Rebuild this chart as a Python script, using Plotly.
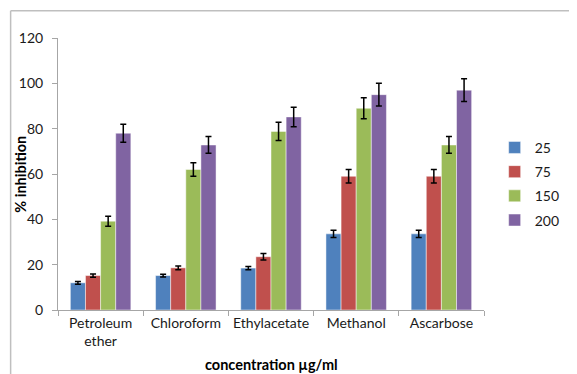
import plotly.graph_objects as go

categories = ["Petroleum<br>ether", "Chloroform", "Ethylacetate", "Methanol", "Ascarbose"]
series_names = ["25", "75", "150", "200"]
values = {
    "25": [12, 15.2, 18.5, 33.6, 33.6],
    "75": [15.2, 18.6, 23.5, 59, 59],
    "150": [39.2, 62, 78.8, 89, 72.8],
    "200": [78, 72.8, 85.2, 95, 97],
}
errors = {
    "25": [0.6, 0.6, 0.7, 1.6, 1.6],
    "75": [0.7, 0.8, 1.4, 3, 3],
    "150": [2.2, 3, 4, 4.6, 3.7],
    "200": [4, 3.7, 4.3, 5, 5],
}
colors = ["#4F81BD", "#C0504D", "#9BBB59", "#8064A2"]
y_ticks = [0, 20, 40, 60, 80, 100, 120]

FONT = "Lato"

fig = go.Figure()
for i, name in enumerate(series_names):
    fig.add_trace(go.Bar(
        x=categories, y=values[name], name=name,
        marker=dict(color=colors[i], line=dict(color="rgba(255,255,255,0.6)", width=0.8)),
        error_y=dict(type="data", array=errors[name], color="black", thickness=1.5, width=3),
        legendgroup=name,
    ))

fig.update_layout(
    width=569, height=366,
    margin=dict(l=50, r=74, t=30, b=64),
    paper_bgcolor="white", plot_bgcolor="white",
    barmode="group", bargap=0.29, bargroupgap=0,
    font=dict(family=FONT, size=14, color="#1a1a1a"),
    showlegend=True,
    legend=dict(x=1.025, y=0.655, xanchor="left", yanchor="top",
                font=dict(size=14), tracegroupgap=3, itemwidth=30,
                bgcolor="rgba(0,0,0,0)"),
    xaxis=dict(showline=True, linecolor="#A6A6A6", linewidth=1,
               ticks="outside", tickson="boundaries", ticklen=5, tickcolor="#A6A6A6",
               showgrid=False, tickfont=dict(size=14)),
    yaxis=dict(range=[0, 120], tickvals=y_ticks, showline=True, linecolor="#A6A6A6",
               linewidth=1, ticks="outside", ticklen=5, tickcolor="#A6A6A6",
               showgrid=False, zeroline=False, tickfont=dict(size=14), ticklabelstandoff=6),
    annotations=[
        dict(text="<b>% inhibition</b>", x=-0.09, y=0.5, xref="paper", yref="paper",
             textangle=-90, showarrow=False, font=dict(size=14.5, color="black"),
             xanchor="center", yanchor="middle"),
        dict(text="<b>concentration µg/ml</b>", x=0.5, y=-0.2, xref="paper", yref="paper",
             showarrow=False, font=dict(size=14.5, color="black"),
             xanchor="center", yanchor="middle"),
    ],
    shapes=[
        dict(type="line", xref="paper", yref="paper", x0=-0.1112, x1=1.2, y0=1.10, y1=1.10,
             line=dict(color="#BFBFBF", width=1.5)),
        dict(type="line", xref="paper", yref="paper", x0=-0.1112, x1=-0.1112, y0=-0.3, y1=1.10,
             line=dict(color="#BFBFBF", width=1.5)),
    ],
)

fig.write_html("out.html")
